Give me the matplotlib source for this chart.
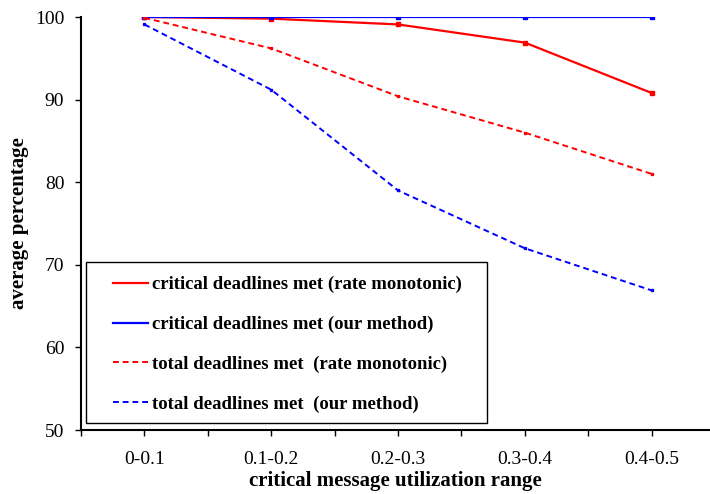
import matplotlib
matplotlib.use("Agg")
import matplotlib.pyplot as plt
from matplotlib.patches import Rectangle
import numpy as np

# Data #
categories = ["0-0.1", "0.1-0.2", "0.2-0.3", "0.3-0.4", "0.4-0.5"]
crit_rm = [100.0, 99.8, 99.1, 96.9, 90.8]
crit_ours = [100.0, 100.0, 100.0, 100.0, 100.0]
total_rm = [99.9, 96.2, 90.4, 86.0, 81.0]
total_ours = [99.1, 91.2, 79.0, 72.0, 66.9]

plt.rcParams['font.family'] = ['Liberation Serif', 'DejaVu Serif']

W, H = 710, 494
fig = plt.figure(figsize=(W/100, H/100), dpi=100)
ax = fig.add_axes([81/W, 64/H, 1 - 81/W, 413/H])

x = np.arange(len(categories))

ax.plot(x, crit_rm, color='red', lw=1.6, marker='s', ms=2.5,
        label='critical deadlines met (rate monotonic)')
ax.plot(x, crit_ours, color='blue', lw=1.6, marker='s', ms=2.5,
        label='critical deadlines met (our method)')
ax.plot(x, total_rm, color='red', lw=1.4, ls=(0, (3, 2)), marker='s', ms=2,
        label='total deadlines met  (rate monotonic)')
ax.plot(x, total_ours, color='blue', lw=1.4, ls=(0, (3, 2)), marker='s', ms=2,
        label='total deadlines met  (our method)')

# Axes setup
ax.set_xlim(-0.5, 4.46)
ax.set_ylim(50, 100)
ax.set_yticks([50, 60, 70, 80, 90, 100])
ax.set_xticks(x)
ax.set_xticklabels(categories)
ax.set_xticks(np.arange(-0.5, 4.5, 1.0), minor=True)
ax.tick_params(axis='both', which='both', direction='out', length=4, width=1,
               labelsize=14)
ax.tick_params(axis='x', which='major', pad=11)
ax.tick_params(axis='y', pad=8)

for s in ['top', 'right']:
    ax.spines[s].set_visible(False)
for s in ['left', 'bottom']:
    ax.spines[s].set_linewidth(1.5)

ax.set_xlabel('critical message utilization range', fontsize=15,
              fontweight='bold', labelpad=2)
ax.set_ylabel('average percentage', fontsize=15, fontweight='bold', labelpad=4)

# Legend frame drawn separately so padding matches
box = Rectangle((86/W, 1 - 423/H), (487 - 86)/W, (423 - 262)/H,
                transform=fig.transFigure, facecolor='white',
                edgecolor='black', lw=1.0, zorder=4, clip_on=False)
ax.add_patch(box)

leg = ax.legend(loc='upper left', bbox_to_anchor=(113/W, 1 - 276/H),
                bbox_transform=fig.transFigure, frameon=False,
                borderaxespad=0, borderpad=0,
                prop={'weight': 'bold', 'size': 13.5}, labelspacing=1.2,
                handlelength=1.87, handletextpad=0.2)
leg.set_zorder(6)
for h in leg.legend_handles:
    h.set_marker('')

fig.savefig('out.png', dpi=100)
